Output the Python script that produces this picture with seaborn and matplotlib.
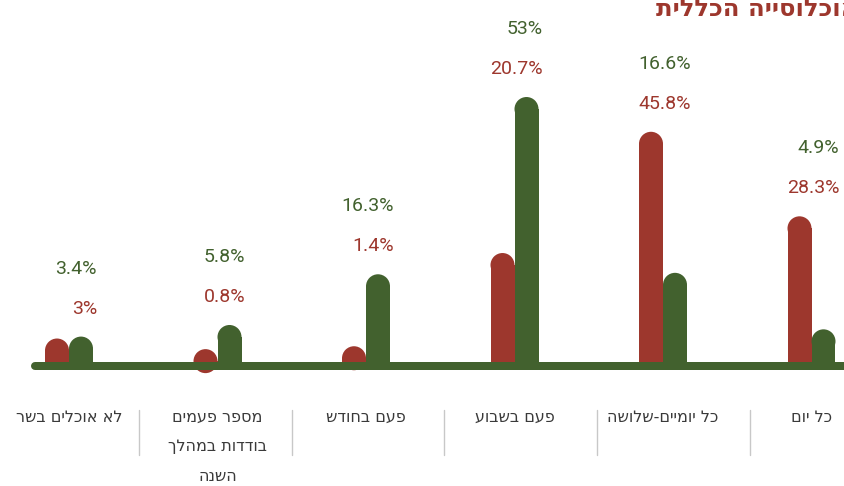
import numpy as np
import pandas as pd
import seaborn as sns
import matplotlib.pyplot as plt
from matplotlib.patches import Ellipse

# categories left to right (as drawn), Hebrew text stored in logical order
categories = ["לא אוכלים בשר", "מספר פעמים\nבודדות במהלך\nהשנה", "פעם בחודש",
              "פעם בשבוע", "כל יומיים-שלושה", "כל יום"]
red_vals = [3, 0.8, 1.4, 20.7, 45.8, 28.3]
green_vals = [3.4, 5.8, 16.3, 53, 16.6, 4.9]
series = ["אוכלוסייה כללית", "קבוצה"]
title = "האוכלוסייה הכללית"

RED = "#9d372d"
GREEN = "#42612e"
W, H = 844, 486
PX_PER_CAT = 148.5
PX_PER_PCT = 4.83
X0_PX = 69      # centre of first pair
BASE_PX = 121   # baseline height from bottom


def rtl(s):
    # matplotlib has no bidi support, flip each line by hand
    return "\n".join(line[::-1] for line in s.split("\n"))


def px_x(p):
    return p / PX_PER_CAT


def px_y(p):
    return p / PX_PER_PCT


df = pd.DataFrame({
    "cat": categories * 2,
    "group": [series[0]] * 6 + [series[1]] * 6,
    "value": red_vals + green_vals,
})

sns.set_style("white")
plt.rcParams["font.family"] = ["Liberation Sans Narrow", "DejaVu Sans"]

fig = plt.figure(figsize=(W / 100, H / 100), dpi=100)
ax = fig.add_axes([0, 0, 1, 1])
bar_w = px_x(24)
sns.barplot(data=df, x="cat", y="value", hue="group", order=categories,
            palette=[RED, GREEN], width=2 * bar_w, dodge=True, legend=False,
            saturation=1, linewidth=0, ax=ax, zorder=2)
ax.set_xlim(-px_x(X0_PX), px_x(W - X0_PX))
ax.set_ylim(-px_y(BASE_PX), px_y(H - BASE_PX))
ax.axis("off")

# rounded caps on top of every bar
for patch in list(ax.patches):
    pw = patch.get_width()
    cx = patch.get_x() + pw / 2
    ax.add_patch(Ellipse((cx, patch.get_height()), pw, pw * PX_PER_CAT / PX_PER_PCT,
                         color=patch.get_facecolor(), lw=0, zorder=2))

# baseline
ax.plot([px_x(35 - X0_PX), px_x(W + 20 - X0_PX)], [px_y(-0.5)] * 2, color=GREEN,
        lw=8 * 0.72, solid_capstyle="round", zorder=3)

# value labels
for i, (r, g) in enumerate(zip(red_vals, green_vals)):
    top = max(r, g) + px_y(12)
    xr = i + px_x(28)
    ax.text(xr, top + px_y(28), f"{r:g}%", color=RED, ha="right", va="center",
            fontsize=14, family=["Roboto", "DejaVu Sans"])
    ax.text(xr, top + px_y(68), f"{g:g}%", color=GREEN, ha="right", va="center",
            fontsize=14, family=["Roboto", "DejaVu Sans"])

# category labels and separators
for i, c in enumerate(categories):
    ax.text(i, px_y(H - 410 - BASE_PX), rtl(c), ha="center", va="top",
            fontsize=11.5, color="#3a3a3a", linespacing=2.2)
for s in np.arange(5) * 1.028 + 0.472:
    ax.plot([s, s], [px_y(31 - BASE_PX), px_y(76 - BASE_PX)], color="#c8c8c8", lw=1)

ax.text(px_x(875 - X0_PX), px_y(H + 3 - BASE_PX), rtl(title), ha="right", va="top",
        fontsize=17.5, fontweight="bold", color=RED)

fig.savefig("out.png", dpi=100)
